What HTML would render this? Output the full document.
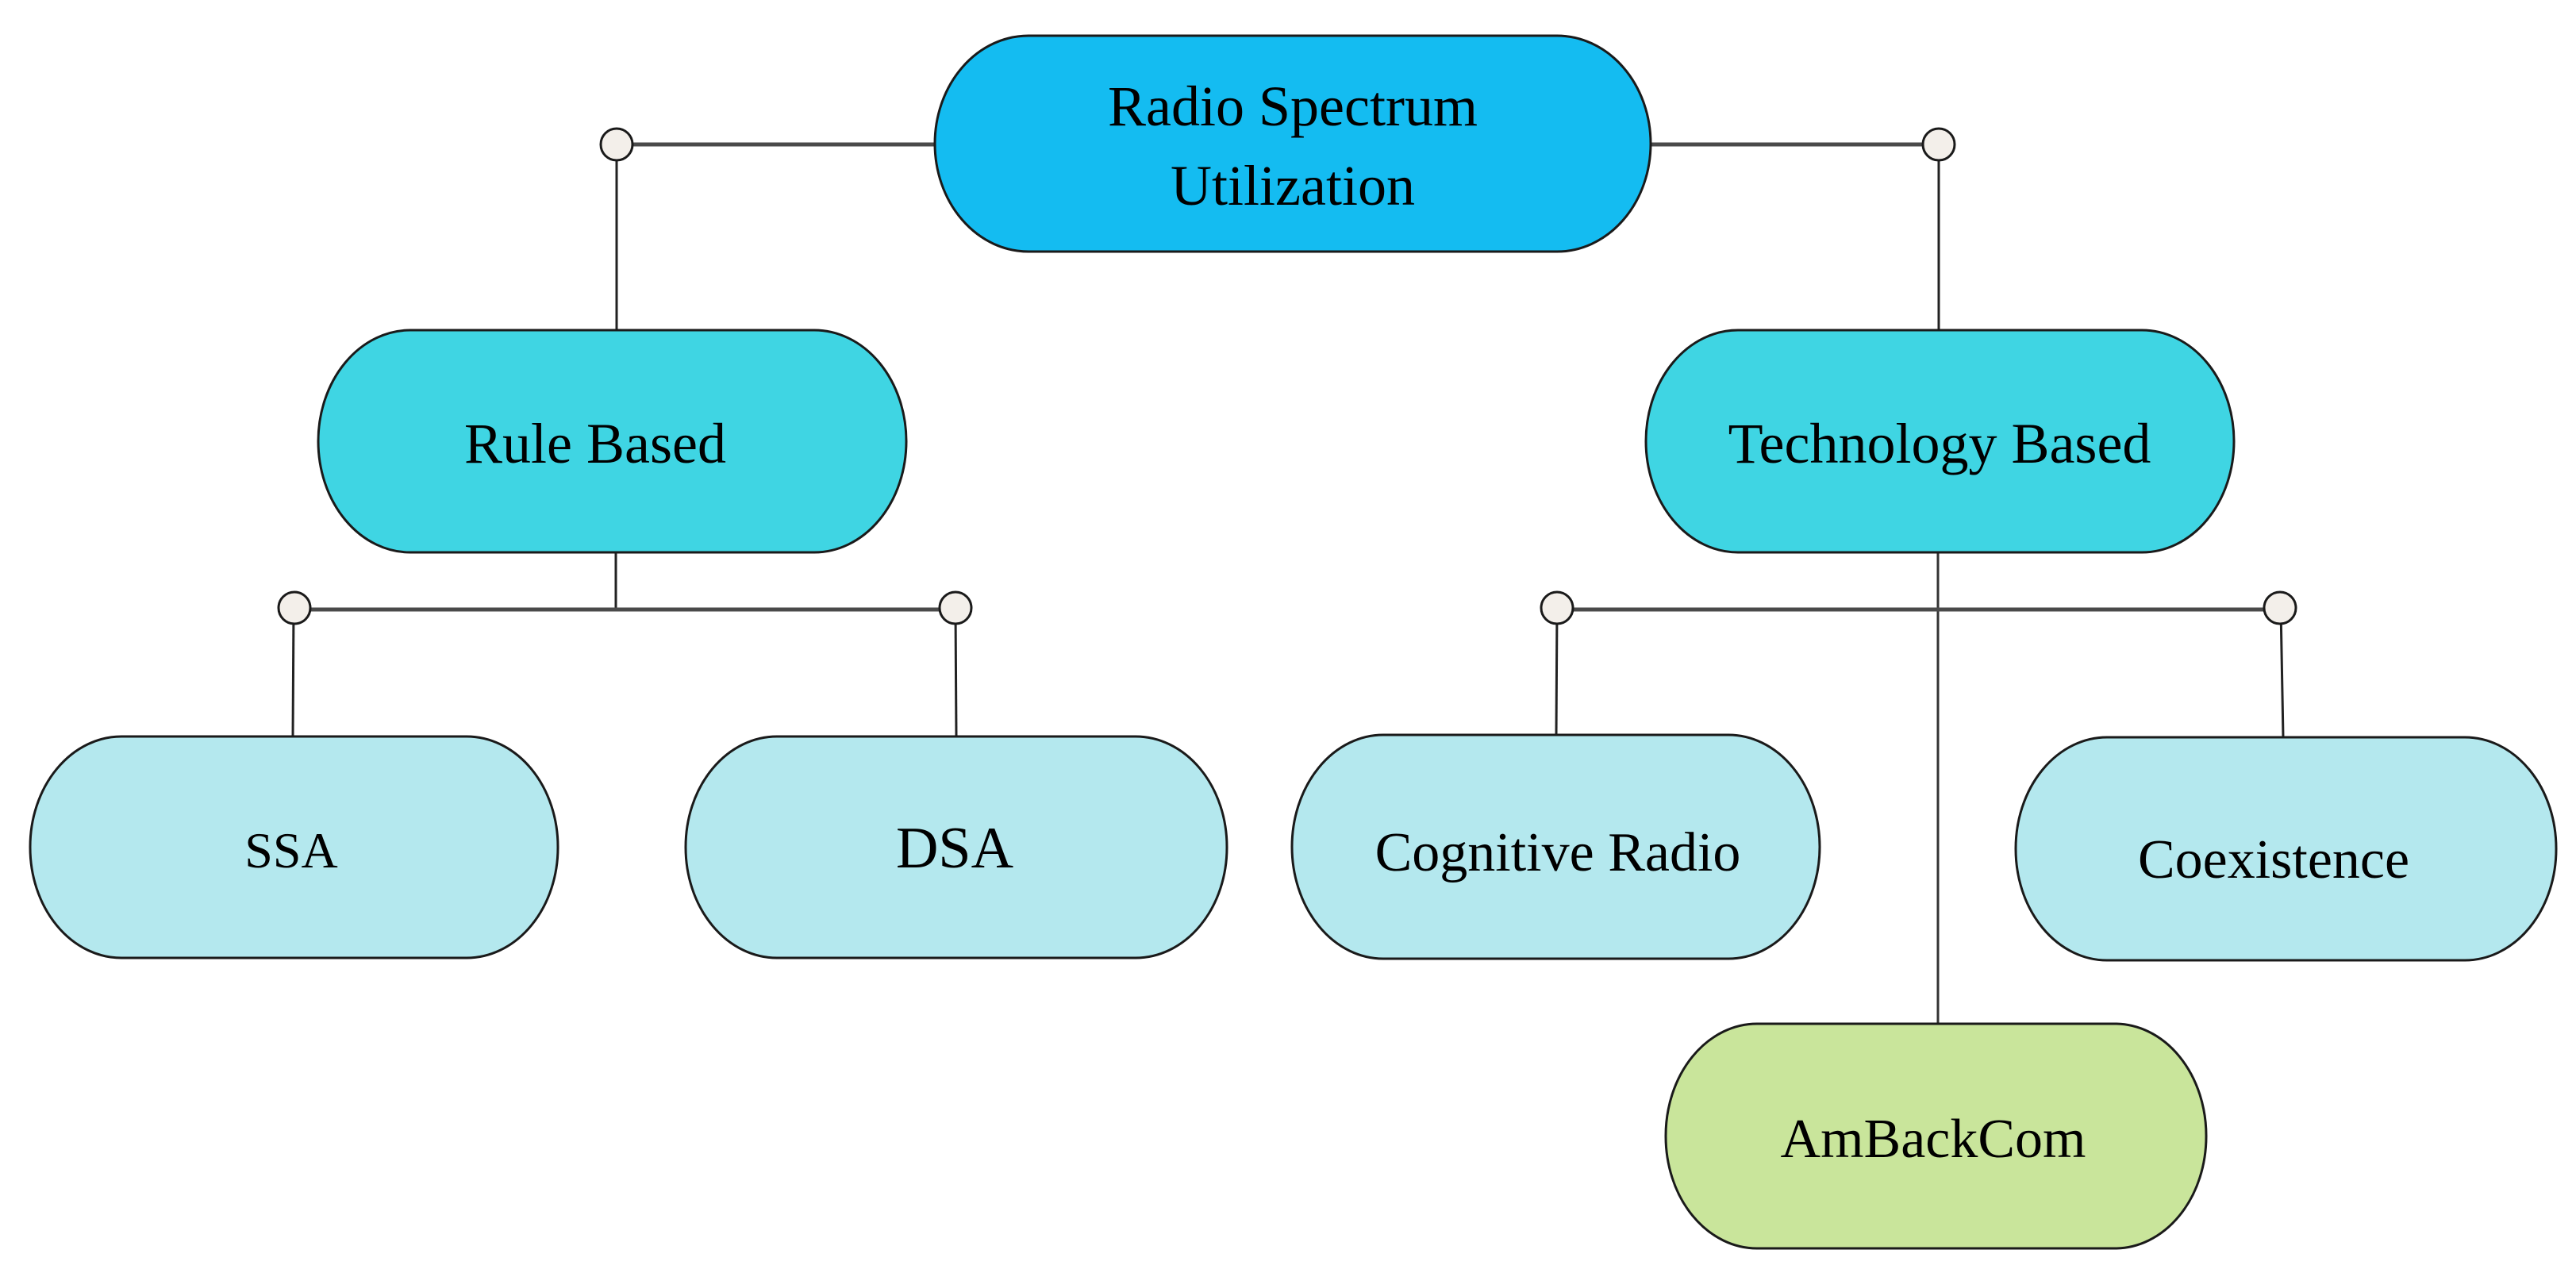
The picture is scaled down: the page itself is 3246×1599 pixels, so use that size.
<!DOCTYPE html>
<html><head><meta charset="utf-8"><style>
html,body{margin:0;padding:0;background:#fff;}
svg{display:block;}
text{font-family:"Liberation Serif",serif;fill:#000;text-anchor:middle;}
</style></head><body>
<svg width="3246" height="1599" viewBox="0 0 3246 1599" xmlns="http://www.w3.org/2000/svg">
<g stroke="#4a4a4a" fill="none">
<line x1="777" y1="182" x2="1178" y2="182" stroke-width="5"/>
<line x1="2080" y1="182" x2="2443" y2="182" stroke-width="5"/>
<line x1="777" y1="182" x2="777" y2="416" stroke-width="3" stroke="#222"/>
<line x1="2443" y1="182" x2="2443" y2="416" stroke-width="3" stroke="#222"/>
<line x1="776" y1="696" x2="776" y2="768" stroke-width="3" stroke="#222"/>
<line x1="371" y1="768" x2="1204" y2="768" stroke-width="5"/>
<line x1="370" y1="766" x2="369" y2="928" stroke-width="3" stroke="#222"/>
<line x1="1204" y1="766" x2="1205" y2="928" stroke-width="3" stroke="#222"/>
<line x1="2442" y1="696" x2="2442" y2="1290" stroke-width="3" stroke="#333"/>
<line x1="1962" y1="768" x2="2873" y2="768" stroke-width="5"/>
<line x1="1962" y1="766" x2="1961" y2="926" stroke-width="3" stroke="#222"/>
<line x1="2874" y1="766" x2="2877" y2="929" stroke-width="3" stroke="#222"/>
</g>
<g stroke="#1a1a1a" stroke-width="3">
<rect x="1178" y="45" width="902" height="272" rx="118" ry="136" fill="#14BCF1"/>
<rect x="401" y="416" width="741" height="280" rx="116" ry="140" fill="#3FD5E3"/>
<rect x="2074" y="416" width="741" height="280" rx="116" ry="140" fill="#3FD5E3"/>
<rect x="38" y="928" width="665" height="279" rx="115" ry="139" fill="#B4E8EE"/>
<rect x="864" y="928" width="682" height="279" rx="115" ry="139" fill="#B4E8EE"/>
<rect x="1628" y="926" width="665" height="282" rx="115" ry="141" fill="#B4E8EE"/>
<rect x="2540" y="929" width="681" height="281" rx="115" ry="140" fill="#B4E8EE"/>
<rect x="2099" y="1290" width="681" height="283" rx="115" ry="141" fill="#C9E59B"/>
</g>
<g fill="#F3EFEA" stroke="#1a1a1a" stroke-width="3">
<ellipse cx="777" cy="182" rx="20" ry="20"/>
<ellipse cx="2443" cy="182" rx="20" ry="20"/>
<ellipse cx="371" cy="766" rx="20" ry="20"/>
<ellipse cx="1204" cy="766" rx="20" ry="20"/>
<ellipse cx="1962" cy="766" rx="20" ry="20"/>
<ellipse cx="2873" cy="766" rx="20" ry="20"/>
</g>
<text x="1629" y="158" font-size="72">Radio Spectrum</text>
<text x="1629" y="258" font-size="72">Utilization</text>
<text x="750" y="583" font-size="72">Rule Based</text>
<text x="2444" y="583" font-size="72">Technology Based</text>
<text x="367" y="1093" font-size="64">SSA</text>
<text x="1203" y="1093" font-size="74">DSA</text>
<text x="1963" y="1097" font-size="70">Cognitive Radio</text>
<text x="2865" y="1106" font-size="70">Coexistence</text>
<text x="2436" y="1458" font-size="70">AmBackCom</text>
</svg>
</body></html>
